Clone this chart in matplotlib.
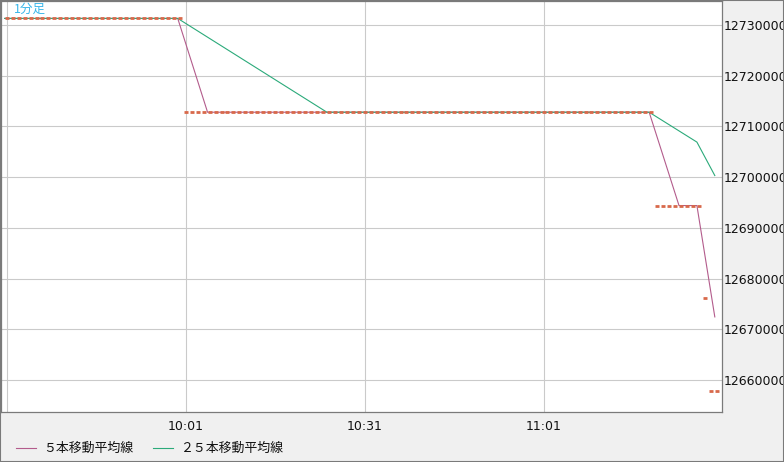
import numpy as np
import pandas as pd
import matplotlib
matplotlib.use("Agg")
import matplotlib.pyplot as plt
from matplotlib.lines import Line2D
from matplotlib.patches import Rectangle

# ---- data (1-minute bars starting 9:31) ----
candle_levels = [12731300, 12712800, 12694400, 12676100, 12657800]   # displayed bar price
candle_counts = [30, 79, 8, 1, 2]                                     # number of minutes at each level
close_levels = [12731300, 12712800, 12694400, 12657800]              # closes used for moving averages
close_counts = [30, 79, 8, 3]
ma_windows = [5, 25]
ma_labels = ["５本移動平均線", "２５本移動平均線"]
tick_minutes = [0, 30, 60, 90]
tick_labels = ["", "10:01", "10:31", "11:01"]
price_ticks = [12660000, 12670000, 12680000, 12690000, 12700000, 12710000, 12720000, 12730000]
chart_title = "1分足"

candles = np.repeat(candle_levels, candle_counts)
closes = pd.Series(np.repeat(close_levels, close_counts).astype(float))
idx = np.arange(len(candles))

W, H = 784, 462
fig = plt.figure(figsize=(W / 100, H / 100), dpi=100, facecolor="#f0f0f0")
ax = fig.add_axes([1 / W, 50 / H, 721 / W, 411 / H])
ax.set_facecolor("white")

half = 0.335
ma_colors = ["#b35c8c", "#2baa7a"]

for w, c in zip(ma_windows, ma_colors):
    ma = closes.rolling(w, min_periods=1).mean()
    ax.plot(idx - half, ma, color=c, lw=0.8, zorder=4)
ax.hlines(candles, idx - half, idx + half, colors="#d8694b", lw=2.0, zorder=5)

ax.set_xlim(-0.95, 119.87)
ax.set_ylim(12653690, 12734733)

ax.set_xticks(tick_minutes)
ax.set_xticklabels(tick_labels, fontsize=9, color="#111111")
ax.set_yticks(price_ticks)
ax.set_yticklabels([str(p) for p in price_ticks], fontsize=9, color="#111111")
ax.yaxis.tick_right()
ax.tick_params(axis="x", length=0, pad=5.5)
ax.tick_params(axis="y", length=0, pad=1.5)
ax.grid(True, color="#cacaca", lw=0.8, zorder=0)
ax.set_axisbelow(True)
for s in ax.spines.values():
    s.set_color("#7a7a7a")
    s.set_linewidth(0.9)

ax.text(13 / 721, 1 - 8.5 / 411, chart_title, transform=ax.transAxes, va="center", ha="left",
        fontsize=9, color="#3ab7ea", family=["Noto Sans CJK JP", "DejaVu Sans"])

# legend
for (x0, x1, xt), c, lab in zip([(16, 36, 43), (153, 173, 180)], ma_colors, ma_labels):
    y = 1 - 447.5 / H
    fig.add_artist(Line2D([x0 / W, x1 / W], [y, y], color=c, lw=0.8, transform=fig.transFigure))
    fig.text(xt / W, 1 - 448 / H, lab, va="center", ha="left", fontsize=9.3, color="#111111",
             family=["Noto Sans CJK JP", "DejaVu Sans"])

fig.add_artist(Rectangle((0, 0), 1, 1, transform=fig.transFigure, fill=False,
                         edgecolor="#7a7a7a", lw=1.5, zorder=10))

fig.savefig("out.png", dpi=100, facecolor=fig.get_facecolor())
